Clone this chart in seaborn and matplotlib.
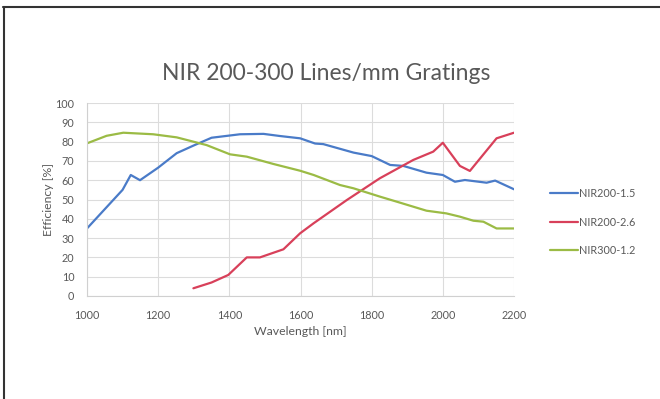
import matplotlib
matplotlib.use("Agg")
import matplotlib.pyplot as plt
import seaborn as sns
import pandas as pd
from matplotlib.lines import Line2D

# Data
wl_blue = [1000, 1055, 1100, 1123, 1149, 1200, 1252, 1300, 1350, 1430, 1496, 1542, 1599, 1641, 1664,
           1749, 1800, 1852, 1889, 1954, 2000, 2034, 2062, 2123, 2147, 2200]
eff_blue = [35, 46, 55, 62.7, 60, 66.5, 74, 78, 82, 83.8, 84, 82.9, 81.7, 79, 78.7,
            74.3, 72.5, 67.9, 67.4, 63.9, 62.7, 59.2, 60.1, 58.7, 59.8, 55.3]

wl_red = [1299, 1350, 1397, 1449, 1486, 1552, 1599, 1637, 1730, 1823, 1917, 1973, 2000, 2048, 2076,
          2151, 2200]
eff_red = [4, 7, 10.9, 20, 20, 24.2, 32.5, 37.7, 49.7, 61, 70.5, 74.8, 79.4, 67.4, 64.8,
           81.7, 84.6]

wl_green = [1000, 1055, 1102, 1186, 1252, 1336, 1402, 1449, 1524, 1599, 1637, 1711, 1749, 1823, 1870,
            1954, 2010, 2048, 2086, 2114, 2151, 2200]
eff_green = [79.1, 83, 84.6, 83.8, 82.2, 78.2, 73.4, 72.2, 68.4, 64.9, 62.7, 57.5, 55.8, 51.5, 48.9,
             44.2, 42.8, 41.1, 39, 38.5, 35, 35]

series = ["NIR200-1.5", "NIR200-2.6", "NIR300-1.2"]
colors = ["#4A7BC8", "#D8405A", "#9BBB45"]

x_ticks = [1000, 1200, 1400, 1600, 1800, 2000, 2200]
y_ticks = list(range(0, 101, 10))

df = pd.concat([
    pd.DataFrame({"wl": wl_blue, "eff": eff_blue, "series": series[0]}),
    pd.DataFrame({"wl": wl_red, "eff": eff_red, "series": series[1]}),
    pd.DataFrame({"wl": wl_green, "eff": eff_green, "series": series[2]}),
])

sns.set_style("white")
plt.rcParams["font.family"] = ["Lato", "DejaVu Sans"]

fig = plt.figure(figsize=(6.6, 3.99), dpi=100)
ax = fig.add_axes([87/660, 1-296/399, (514-87)/660, (296-103)/399])

sns.lineplot(data=df, x="wl", y="eff", hue="series", palette=dict(zip(series, colors)),
             ax=ax, linewidth=1.6, legend=False, sort=False, estimator=None)

ax.set_xlim(1000, 2200)
ax.set_ylim(0, 100)
ax.set_xticks(x_ticks)
ax.set_yticks(y_ticks)
ax.grid(True, color="#DCDCDC", linewidth=0.8)
ax.set_axisbelow(True)
for s in ["top", "right"]:
    ax.spines[s].set_visible(False)
for s in ["left", "bottom"]:
    ax.spines[s].set_color("#D0D0D0")
    ax.spines[s].set_linewidth(0.8)
ax.tick_params(axis="y", length=0, labelsize=7.8, labelcolor="#595959", pad=9)
ax.tick_params(axis="x", length=0, labelsize=7.8, labelcolor="#595959", pad=10)
ax.set_xlabel("Wavelength [nm]", fontsize=8.8, color="#595959", labelpad=4)
ax.set_ylabel("Efficiency [%]", fontsize=8.8, color="#595959", labelpad=1)

fig.text(0.494, 1-73/399, "NIR 200-300 Lines/mm Gratings", ha="center", va="center",
         fontsize=16.5, color="#595959")

handles = [Line2D([0], [0], color=c, lw=1.6) for c in colors]
leg = fig.legend(handles, series, loc="center left", bbox_to_anchor=(540/660, 1-222/399),
                 frameon=False, fontsize=7.8, handlelength=2.6, labelspacing=1.6,
                 handletextpad=0.1, labelcolor="#595959")

# outer frame (top and left edges)
fig.add_artist(Line2D([3/660, 1], [1-6.5/399, 1-6.5/399], transform=fig.transFigure, color="#333333", lw=1.5))
fig.add_artist(Line2D([4/660, 4/660], [0, 1-6.5/399], transform=fig.transFigure, color="#333333", lw=1.5))

fig.savefig("out.png", dpi=100)
